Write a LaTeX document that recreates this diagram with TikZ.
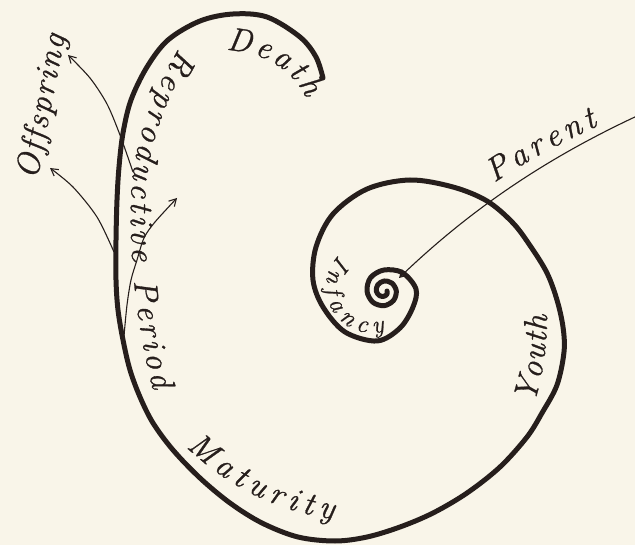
\documentclass[tikz,border=0pt]{standalone}
\usepackage{fontspec}
\usetikzlibrary{decorations.text,arrows.meta}
\newfontfamily\lblfam{Latin Modern Roman}[FakeBold=0.9]
\definecolor{paper}{RGB}{249,245,233}
\definecolor{ink}{RGB}{38,30,28}
\newcommand\lblfont{\lblfam\itshape\fontsize{33}{33}\selectfont}
\newcommand\smallfont{\lblfam\itshape\fontsize{25}{25}\selectfont}
\tikzset{
  life/.style={line width=5pt, draw=ink, line cap=round, line join=round},
  thinarrow/.style={line width=1.1pt, draw=ink, -{Straight Barb[length=7pt,width=8pt]}},
  lbl/.style={decorate, decoration={text along path, text color=ink, text align={fit to path}}},
}
\begin{document}
\begin{tikzpicture}[x=1pt,y=-1pt]
\fill[paper] (0,0) rectangle (635,545);
\useasboundingbox (0,0) rectangle (635,545);

% the life spiral
\draw[life] plot[smooth, tension=0.55] coordinates {
 (387,291) (387,294) (384,296.3) (379.4,295.6) (376.3,291) (377.8,284.8) (384,281)
 (391.9,283.1) (396.3,291) (393.5,300.5) (384,305.7) (372.8,302.2) (367,291)
 (370.6,277.6) (384,270) (402.4,272.6) (416,289) (413,307) (400,328) (377,341)
 (345,332) (323,307) (313,280) (316,247) (333,214) (367,189) (410,180) (453,187)
 (487,201) (513,223) (531,247) (547,273) (557,300) (563,327) (564,352) (557,385)
 (542,413) (527,437) (500,467) (467,493) (433,513) (400,527) (367,537) (335,541)
 (298,537) (262,523) (230,503) (200,478) (173,450) (153,423) (140,397) (130,370)
 (123,340) (118,310) (116,280) (116,240) (117,200) (119,167) (123,133) (131,100)
 (147,67) (168,40) (200,21) (233,14) (267,17) (300,37) (316,57) (323,78)};

% parent arrow
\coordinate (pstart) at (637,116);
\coordinate (pend) at (399,278);
\draw[thinarrow] (pstart) .. controls (560,152) and (480,200) .. (pend);

% offspring arrows
\draw[thinarrow] plot[smooth] coordinates {(133,172) (120,135) (107,104) (90,78) (68,55)};
\draw[thinarrow] plot[smooth] coordinates {(114,252) (97,217) (73,187) (50,168)};
\draw[thinarrow] plot[smooth] coordinates {(124,336) (127,305) (131,280) (137,260) (144,238) (155,222) (177,198)};

% labels
\path[lbl, decoration={text={|\lblfont|Death}}] (226,50) .. controls (262,52) and (292,68) .. (306,98);
\path[lbl, decoration={text={|\lblfont|Reproductive Period}}] (179,48) .. controls (158,85) and (133,135) .. (131,200) .. controls (129,270) and (140,340) .. (153,390);
\path[lbl, decoration={text={|\lblfont|Maturity}}] (186,447) .. controls (225,483) and (270,510) .. (333,519);
\path[lbl, decoration={text={|\lblfont|Youth}}] (534,404) .. controls (542,380) and (547,350) .. (547,315);
\path[lbl, decoration={text={|\lblfont|Offspring}}] (37,180) -- (65,36);
\path[lbl, decoration={text={|\lblfont|Parent}}] (494,183) .. controls (525,162) and (560,143) .. (598,126);
\path[lbl, decoration={text={|\smallfont|Infancy}}] plot[domain=0:150, samples=40, variable=\t] ({372+46*cos(224-\t)}, {287+46*sin(224-\t)});
\end{tikzpicture}
\end{document}
